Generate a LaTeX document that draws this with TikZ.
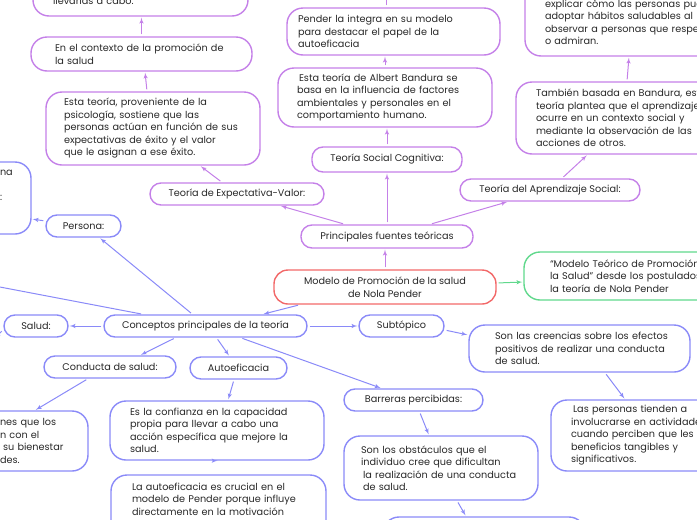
\documentclass[tikz,border=0pt]{standalone}
\usepackage{fontspec}
\setmainfont{Poppins}
\usetikzlibrary{shapes, arrows, positioning, calc}
\definecolor{violeta}{RGB}{196,128,232}
\definecolor{azul}{RGB}{138,138,248}
\definecolor{rojo}{RGB}{242,104,104}
\definecolor{verde}{RGB}{96,216,140}
\definecolor{tinta}{RGB}{40,40,40}
\tikzset{
    block/.style = {rectangle, draw, line width=1.4pt, rounded corners=11pt, text=tinta, inner sep=0pt, font=\fontsize{9.7}{12.5}\selectfont},
    pill/.style = {block, minimum height=22pt},
    card/.style = {block, rounded corners=16pt, align=left},
    line/.style = {draw, -latex', line width=1pt, shorten <=2pt, shorten >=1pt}
}
\begin{document}
\begin{tikzpicture}[x=1pt, y=-1pt]
        \useasboundingbox (0,0) rectangle (697,520);
        \clip (0,0) rectangle (697,520);
        % Nodes
        \node [pill, draw=rojo, rounded corners=14pt, minimum width=222pt, minimum height=34pt, align=center] (modelo) at (385,287) {Modelo de Promoción de la salud\\de Nola Pender};
        \node [card, draw=verde, minimum width=230pt, minimum height=48pt, text width=178pt] (postulados) at (639,276) {\mbox{“Modelo Teórico de Promoción de}\\\mbox{la Salud” desde los postulados de}\\la teoría de Nola Pender};
        
        % Fuentes teoricas
        \node [pill, draw=violeta, minimum width=172pt, minimum height=23pt] (fuentes) at (387,236.5) {Principales fuentes teóricas};
        \node [pill, draw=violeta, minimum width=174pt] (expectativa) at (237,194) {Teoría de Expectativa-Valor:};
        \node [card, draw=violeta, minimum width=214pt, minimum height=73pt, text width=178pt] (psicologia) at (153,128.5) {Esta teoría, proveniente de la\\psicología, sostiene que las\\\mbox{personas actúan en función de sus}\\expectativas de éxito y el valor\\que le asignan a ese éxito.};
        \node [card, draw=violeta, minimum width=221pt, minimum height=34pt, text width=173pt] (contexto) at (141.5,54) {\mbox{En el contexto de la promoción de}\\la salud};
        \node [card, draw=violeta, minimum width=215pt, minimum height=34.5pt, text width=175pt] (llevar) at (140.5,-1.25) {\mbox{}\\llevarlas a cabo.};
        \node [pill, draw=violeta, minimum width=150pt, minimum height=25pt] (cognitiva) at (387,159.5) {Teoría Social Cognitiva:};
        \node [card, draw=violeta, minimum width=214pt, minimum height=59pt, text width=176pt] (bandura) at (385,97.5) {\hspace{2pt}Esta teoría de Albert Bandura se\\basa en la influencia de factores\\ambientales y personales en el\\comportamiento humano.};
        \node [card, draw=violeta, minimum width=213pt, minimum height=47pt, text width=191pt] (pender) at (393.5,31.5) {Pender la integra en su modelo\\para destacar el papel de la\\autoeficacia};
        \node [pill, draw=violeta, minimum width=180pt] (aprendizaje) at (550,190) {Teoría del Aprendizaje Social:};
        \node [card, draw=violeta, minimum width=215pt, minimum height=72pt, text width=175pt] (social) at (623.5,118) {\mbox{También basada en Bandura, esta}\\\mbox{teoría plantea que el aprendizaje}\\ocurre en un contexto social y\\mediante la observación de las\\acciones de otros.};
        \node [card, draw=violeta, minimum width=215pt, minimum height=72pt, text width=175pt] (habitos) at (632.5,20) {\mbox{}\\\mbox{explicar cómo las personas pueden}\\adoptar hábitos saludables al\\\mbox{observar a personas que respetan}\\o admiran.};
        
        % Conceptos principales
        \node [pill, draw=azul, minimum width=203pt] (conceptos) at (205.5,326) {Conceptos principales de la teoría};
        \node [pill, draw=azul, minimum width=75pt] (persona) at (83.5,226) {Persona:};
        \node [card, draw=azul, minimum width=51pt, minimum height=72pt, text width=11pt] (personadef) at (5.5,198) {na\\\mbox{}\\:\\\mbox{}\\\mbox{}};
        \node [pill, draw=azul, minimum width=64pt] (salud) at (36,326) {Salud:};
        \node [pill, draw=azul, minimum width=85pt] (subtopico) at (401.5,326) {Subtópico};
        \node [card, draw=azul, minimum width=221pt, minimum height=47pt, text width=169pt] (creencias) at (579.5,348.5) {\mbox{Son las creencias sobre los efectos}\\\mbox{positivos de realizar una conducta}\\de salud.};
        \node [card, draw=azul, minimum width=215pt, minimum height=71pt, text width=175pt] (beneficios) at (658.5,435.5) {\hspace{2pt}Las personas tienden a\\involucrarse en actividades\\\mbox{cuando perciben que les dan}\\beneficios tangibles y\\significativos.};
        \node [pill, draw=azul, minimum width=132pt] (conducta) at (110,367) {Conducta de salud:};
        \node [card, draw=azul, minimum width=106pt, minimum height=60pt, text width=70pt] (acciones) at (35,441) {nes que los\\n con el\\\hspace{3pt}su bienestar\\des.};
        \node [pill, draw=azul, minimum width=97pt] (autoeficacia) at (238.5,368) {Autoeficacia};
        \node [card, draw=azul, minimum width=214pt, minimum height=59pt, text width=174pt] (confianza) at (217,430.5) {Es la confianza en la capacidad\\propia para llevar a cabo una\\\mbox{acción específica que mejore la}\\salud.};
        \node [card, draw=azul, minimum width=215pt, minimum height=61pt, text width=173pt] (crucial) at (218.5,505.5) {La autoeficacia es crucial en el\\\mbox{modelo de Pender porque influye}\\directamente en la motivación\\\mbox{}};
        \node [pill, draw=azul, minimum width=139pt] (barreras) at (413.5,400) {Barreras percibidas:};
        \node [card, draw=azul, minimum width=194pt, minimum height=64pt, text width=160pt] (obstaculos) at (441,468) {Son los obstáculos que el\\individuo cree que dificultan\\\mbox{\hspace{2pt}la realización de una conducta}\\\hspace{2pt}de salud.};
        \node [card, draw=azul, minimum width=202pt, minimum height=43pt] (siguiente) at (484,538.5) {};
        
        \coordinate (arriba) at (386,-12);
        \coordinate (izquierda) at (-8,285.5);
        \coordinate (izquierdabajo) at (-6,338);
        
        % Edges
        \path [line, violeta] (modelo.north) -- (modelo.north |- fuentes.south);
        \path [line, violeta] ([xshift=-42pt]fuentes.north) -- ([xshift=43pt]expectativa.south);
        \path [line, violeta] (fuentes.north) -- (cognitiva.south);
        \path [line, violeta] ([xshift=43pt]fuentes.north) -- ([xshift=-42pt]aprendizaje.south);
        \path [line, violeta] (cognitiva.north) -- (cognitiva.north |- bandura.south);
        \path [line, violeta] (bandura.north) -- (bandura.north |- pender.south);
        \path [line, violeta] (pender.north -| arriba) -- (arriba);
        \path [line, violeta] ([xshift=-15pt]expectativa.north) -- ([xshift=47pt]psicologia.south);
        \path [line, violeta] ([xshift=-6pt]psicologia.north) -- ([xshift=3.5pt]contexto.south);
        \path [line, violeta] (contexto.north) -- (contexto.north |- llevar.south);
        \path [line, violeta] ([xshift=12pt]aprendizaje.north) -- ([xshift=-36pt]social.south);
        \path [line, violeta] ([xshift=3.5pt]social.north) -- ([xshift=-3.5pt]habitos.south);
        \path [line, verde] ([yshift=4pt]modelo.east) -- ([yshift=-6pt]postulados.west);
        \path [line, azul] ([xshift=-85pt]modelo.south) -- ([xshift=57pt]conceptos.north);
        \path [line, azul] ([xshift=-13pt]conceptos.north) -- ([xshift=16pt]persona.south);
        \path [line, azul] ([yshift=5pt]persona.west) -- ([yshift=-21pt]personadef.east);
        \path [line, azul] ([xshift=-62.5pt]conceptos.north) -- (izquierda);
        \path [line, azul] (conceptos.west) -- (salud.east);
        \path [line, azul] ([yshift=-4pt]salud.west) -- (izquierdabajo);
        \path [line, azul] ([xshift=-30pt]conceptos.south) -- ([xshift=30pt]conducta.north);
        \path [line, azul] ([xshift=11pt]conceptos.south) -- ([xshift=-9pt]autoeficacia.north);
        \path [line, azul] ([xshift=35pt]conceptos.south) -- ([xshift=-32pt]barreras.north);
        \path [line, azul] (conceptos.east) -- (subtopico.west);
        \path [line, azul] ([yshift=-4pt]subtopico.east) -- ([yshift=13.5pt]creencias.west);
        \path [line, azul] ([xshift=25.5pt]creencias.south) -- ([xshift=-33.5pt]beneficios.north);
        \path [line, azul] ([xshift=6pt]barreras.south) -- ([xshift=-12pt]obstaculos.north);
        \path [line, azul] ([xshift=16pt]obstaculos.south) -- ([xshift=-18pt]siguiente.north);
        \path [line, azul] ([xshift=-22pt]conducta.south) -- (acciones.north);
        \path [line, azul] ([xshift=-4.5pt]autoeficacia.south) -- ([xshift=11pt]confianza.north);
        \path [line, azul] (confianza.south) -- (confianza.south -| crucial.north);
    \end{tikzpicture}
\end{document}
